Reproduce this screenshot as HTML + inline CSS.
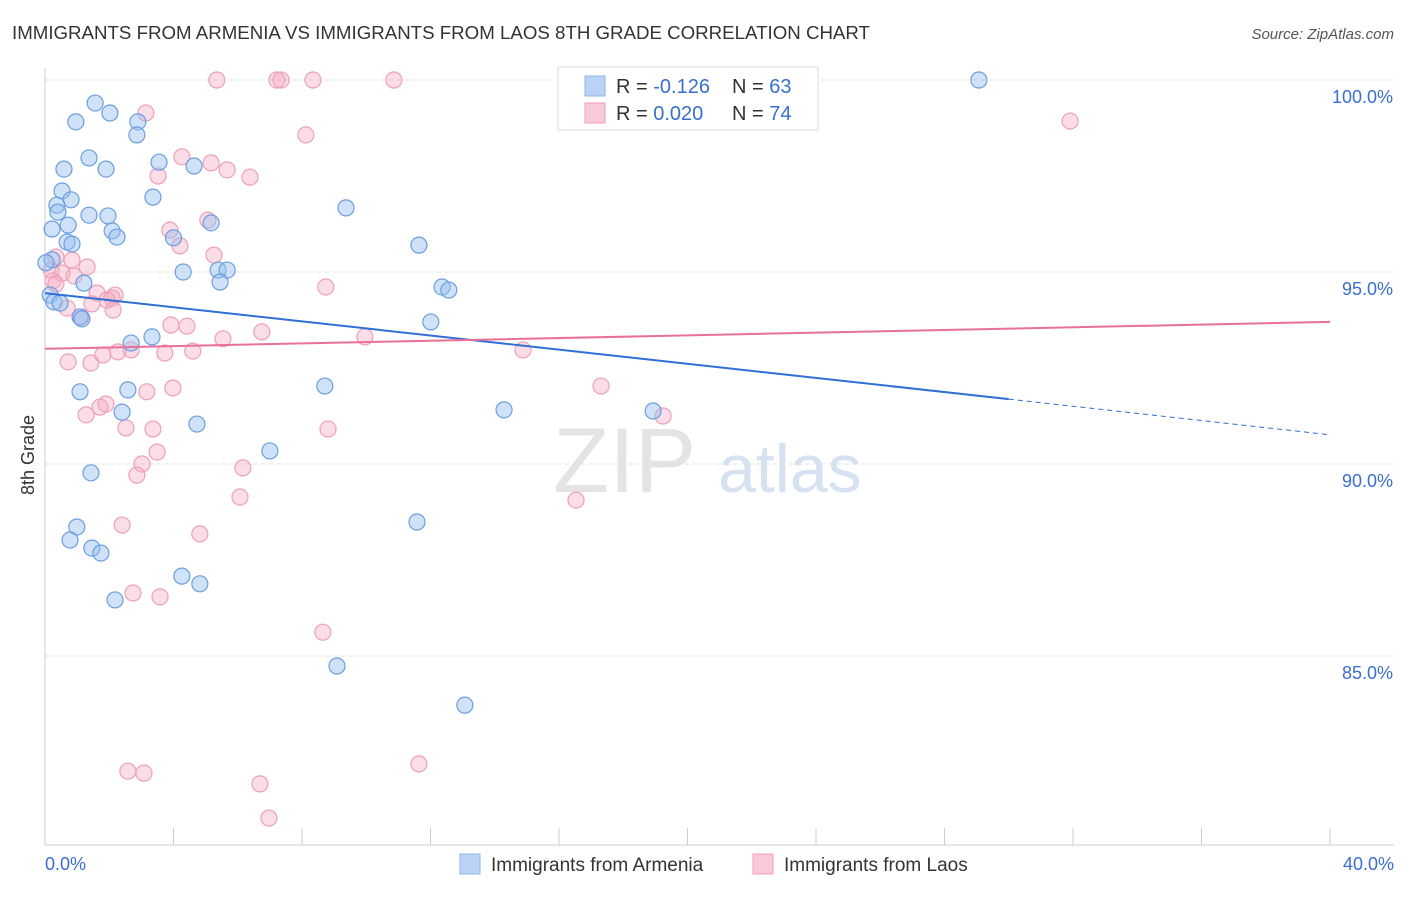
<!DOCTYPE html>
<html><head><meta charset="utf-8"><style>
body{margin:0;background:#fff;font-family:"Liberation Sans",sans-serif;}
svg text{font-family:"Liberation Sans",sans-serif;}
</style></head><body>
<svg id="chart" width="1406" height="892">
<text x="12" y="39" font-size="18.7" fill="#333">IMMIGRANTS FROM ARMENIA VS IMMIGRANTS FROM LAOS 8TH GRADE CORRELATION CHART</text>
<text x="1394" y="39" font-size="15" fill="#555" font-style="italic" text-anchor="end">Source: ZipAtlas.com</text>
<text x="553" y="492" font-size="92" fill="#e4e4e4" font-family="Liberation Serif">ZIP</text>
<text x="718" y="492" font-size="68" fill="#d6e2f2">atlas</text>
<text transform="translate(34,455) rotate(-90)" font-size="18" fill="#333" text-anchor="middle">8th Grade</text>
<g id="grid"></g><g id="pts"></g><g id="trend"></g>
<g>
<rect x="558" y="67" width="260" height="63" fill="#fff" stroke="#ddd"/>
<rect x="585" y="76" width="20" height="20" fill="#b8d3f5" stroke="#8fb5e8"/>
<rect x="585" y="103" width="20" height="20" fill="#f9c9d7" stroke="#f0a0b8"/>
<text x="616" y="93" font-size="20" fill="#333">R = <tspan fill="#3a6fcf">-0.126</tspan><tspan x="732">N = </tspan><tspan fill="#3a6fcf">63</tspan></text>
<text x="616" y="120" font-size="20" fill="#333">R = <tspan fill="#3a6fcf">0.020</tspan><tspan x="732">N = </tspan><tspan fill="#3a6fcf">74</tspan></text>
</g>
<g>
<rect x="460" y="854" width="20" height="20" fill="#b8d3f5" stroke="#8fb5e8"/>
<text x="491" y="871" font-size="19" fill="#333">Immigrants from Armenia</text>
<rect x="753" y="854" width="20" height="20" fill="#f9c9d7" stroke="#f0a0b8"/>
<text x="784" y="871" font-size="19" fill="#333">Immigrants from Laos</text>
</g>
</svg>
<script>
const yTicks=[100,95,90,85];
const xTickLabels=["0.0%","40.0%"];
const armeniaX=[1.56,2.02,0.96,2.89,2.86,1.37,3.55,4.64,0.59,1.9,0.53,3.36,0.81,0.37,0.4,1.37,1.96,9.37,0.72,0.22,5.17,2.09,2.24,4.0,0.69,0.84,11.64,0.22,0.03,4.3,5.39,5.67,5.45,1.21,12.36,12.57,0.16,0.28,0.47,1.09,1.15,12.01,3.33,2.68,1.09,2.58,8.71,14.29,2.4,18.93,4.73,7.0,1.43,0.99,0.78,1.46,1.74,11.58,4.26,4.82,2.18,9.09,13.07,29.07];
const armeniaY=[99.4,99.14,98.91,98.91,98.57,97.97,97.86,97.76,97.68,97.68,97.11,96.95,96.88,96.74,96.56,96.48,96.46,96.67,96.22,96.12,96.28,96.07,95.91,95.89,95.78,95.73,95.70,95.32,95.24,95.0,95.05,95.05,94.74,94.71,94.61,94.53,94.4,94.22,94.19,93.83,93.78,93.70,93.31,93.15,91.88,91.93,92.03,91.41,91.35,91.38,91.04,90.34,89.77,88.36,88.02,87.81,87.68,88.49,87.08,86.88,86.46,84.74,83.72,100.0];
const laosX=[5.35,7.22,7.35,8.34,10.86,3.14,8.12,31.91,4.26,5.17,3.52,5.67,6.38,5.07,3.89,4.2,5.26,0.34,0.84,1.31,0.19,0.53,0.9,0.25,0.34,1.62,2.09,2.18,1.93,1.46,0.69,2.12,1.12,8.74,3.92,4.42,6.75,9.96,5.54,1.8,2.68,2.27,3.73,4.6,14.88,0.72,1.43,17.31,3.17,3.98,1.9,1.71,1.28,2.52,3.36,8.81,19.24,3.49,3.02,6.16,2.86,6.07,16.53,2.4,4.82,2.74,3.58,8.65,2.58,3.08,11.64,6.69,6.97];
const laosY=[100,100,100,100,100,99.14,98.57,98.93,98.0,97.84,97.5,97.66,97.47,96.35,96.09,95.68,95.44,95.39,95.31,95.13,95.05,94.97,94.9,94.77,94.69,94.45,94.32,94.4,94.27,94.17,94.06,94.01,93.83,94.61,93.62,93.59,93.44,93.31,93.26,92.84,92.97,92.92,92.89,92.94,92.97,92.66,92.63,92.03,91.88,91.98,91.56,91.48,91.28,90.94,90.91,90.91,91.25,90.31,90.0,89.9,89.71,89.14,89.06,88.41,88.18,86.64,86.54,85.62,82.0,81.95,82.19,81.67,80.78];
const trendArmenia=[94.45,91.69,90.76];
const trendLaos=[93.0,93.7];
const NS="http://www.w3.org/2000/svg";
const sx=v=>45+v/40*1285, sy=v=>80+(100-v)/5*192;
function mk(t,a,p){const e=document.createElementNS(NS,t);for(const k in a)e.setAttribute(k,a[k]);p.appendChild(e);return e;}
const grid=document.getElementById('grid');
yTicks.forEach(v=>{
 const l=mk('line',{x1:45,x2:1394,y1:sy(v),y2:sy(v),stroke:'#ddd','stroke-dasharray':'4,4'},grid);
 
 
 const t=mk('text',{x:1393,y:sy(v)+23,'font-size':18,fill:'#3a6fcf','text-anchor':'end'},grid);
 t.textContent=v.toFixed(1)+'%';
 
 
});
mk('line',{x1:45,x2:45,y1:68,y2:845,stroke:'#ccc'},grid);
mk('line',{x1:45,x2:1394,y1:845,y2:845,stroke:'#ccc'},grid);
for(let i=0;i<=10;i++){mk('line',{x1:sx(i*4),x2:sx(i*4),y1:828,y2:845,stroke:'#ccc'},grid);}
xTickLabels.forEach((s,i)=>{
 const t=mk('text',{x:i?1394:45,y:870,'font-size':18,fill:'#3a6fcf','text-anchor':i?'end':'start'},grid);
 t.textContent=s;
 
 
});
const pts=document.getElementById('pts');
laosX.forEach((x,i)=>{
 const c=mk('circle',{cx:sx(x),cy:sy(laosY[i]),r:8,fill:'rgba(246,170,195,0.4)',stroke:'#eea0b8','stroke-width':1.2},pts);
 
 
});
armeniaX.forEach((x,i)=>{
 const c=mk('circle',{cx:sx(x),cy:sy(armeniaY[i]),r:8,fill:'rgba(150,190,240,0.45)',stroke:'#6a9ee0','stroke-width':1.2},pts);
 
 
});
const tr=document.getElementById('trend');
const a=mk('line',{x1:sx(0),y1:sy(trendArmenia[0]),x2:sx(30),y2:sy(trendArmenia[1]),stroke:'#2f6fd6','stroke-width':2},tr);


const a2=mk('line',{x1:sx(30),y1:sy(trendArmenia[1]),x2:sx(40),y2:sy(trendArmenia[2]),stroke:'#2f6fd6','stroke-width':1,'stroke-dasharray':'5,4'},tr);


const b=mk('line',{x1:sx(0),y1:sy(trendLaos[0]),x2:sx(40),y2:sy(trendLaos[1]),stroke:'#e8709a','stroke-width':2},tr);


</script>
</body></html>
